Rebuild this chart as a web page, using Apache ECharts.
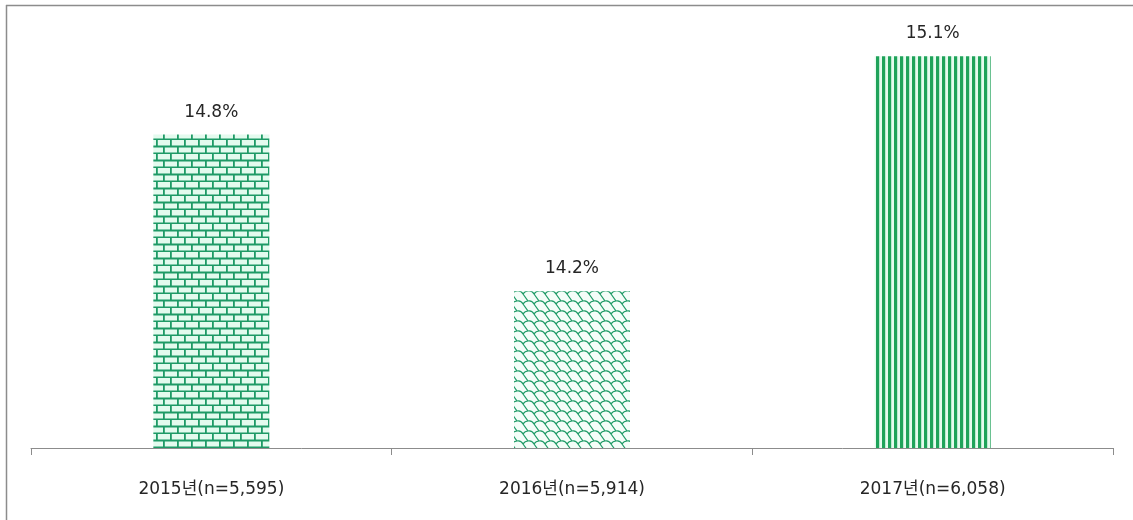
<!DOCTYPE html>
<html><head><meta charset="utf-8">
<script src="https://cdn.jsdelivr.net/npm/echarts@6/dist/echarts.min.js"></script>
<style>html,body{margin:0;padding:0;background:#fff}#c{width:1133px;height:520px}</style>
</head><body><div id="c"></div>
<script>
var categories = ['2015년(n=5,595)', '2016년(n=5,914)', '2017년(n=6,058)'];
var values = [14.8, 14.2, 15.1];
var labels = ['14.8%', '14.2%', '15.1%'];

var GREEN = '#1e9a66', GREEN2 = '#1fa35a', MINT = '#e3fbee';
var FONT = '"DejaVu Sans", "Noto Sans CJK KR", sans-serif';
function tile(w, h, draw) {
  var c = document.createElement('canvas'); c.width = w; c.height = h;
  var g = c.getContext('2d'); draw(g); return c;
}
var brick = tile(14, 14, function (g) {
  g.fillStyle = MINT; g.fillRect(0, 0, 14, 14);
  g.fillStyle = GREEN;
  g.fillRect(0, 5.5, 14, 2); g.fillRect(0, 12.5, 14, 1.5);
  g.fillRect(2, 0, 1.8, 6); g.fillRect(9, 7, 1.8, 6);
});
var wave = tile(11, 10, function (g) {
  g.fillStyle = '#f4fdf8'; g.fillRect(0, 0, 11, 10);
  g.strokeStyle = GREEN; g.lineWidth = 1.2;
  for (var dx = -11; dx <= 11; dx += 11) {
    for (var dy = -10; dy <= 10; dy += 10) {
      g.beginPath();
      g.moveTo(dx + 0, dy + 1);
      g.quadraticCurveTo(dx + 4, dy + 0, dx + 6, dy + 4);
      g.lineTo(dx + 11, dy + 11);
      g.stroke();
      g.beginPath();
      g.moveTo(dx + 6, dy + 4);
      g.quadraticCurveTo(dx + 8, dy + 1, dx + 11, dy + 1);
      g.stroke();
    }
  }
});
var stripes = tile(6, 6, function (g) {
  g.fillStyle = '#e6fbef'; g.fillRect(0, 0, 6, 6);
  g.fillStyle = GREEN2; g.fillRect(0, 0, 3.2, 6);
});
var patterns = [brick, wave, stripes];

var chart = echarts.init(document.getElementById('c'));
chart.setOption({
  animation: false,
  backgroundColor: '#fff',
  grid: { left: 31, right: 20, top: 4, bottom: 72 },
  graphic: [
    { type: 'line', shape: { x1: 6.5, y1: 5, x2: 6.5, y2: 520 }, style: { stroke: '#8c8c8c', lineWidth: 1.5 } },
    { type: 'line', shape: { x1: 6, y1: 5.5, x2: 1133, y2: 5.5 }, style: { stroke: '#8c8c8c', lineWidth: 1.5 } }
  ],
  xAxis: {
    type: 'category', data: categories,
    axisLine: { lineStyle: { color: '#8c8c8c', width: 1 } },
    axisTick: { show: true, length: 7, lineStyle: { color: '#8c8c8c' } },
    axisLabel: { margin: 33, color: '#262626', fontSize: 17, fontFamily: FONT }
  },
  yAxis: { type: 'value', min: 13.6, max: 15.3, show: false, splitLine: { show: false } },
  series: [{
    type: 'bar', barWidth: 116,
    data: values.map(function (v, i) {
      return { value: v, itemStyle: { color: { image: patterns[i], repeat: 'repeat' } },
        label: { formatter: labels[i] } };
    }),
    label: { show: true, position: 'top', distance: 14, color: '#262626', fontSize: 17, fontFamily: FONT }
  }]
});
</script></body></html>
